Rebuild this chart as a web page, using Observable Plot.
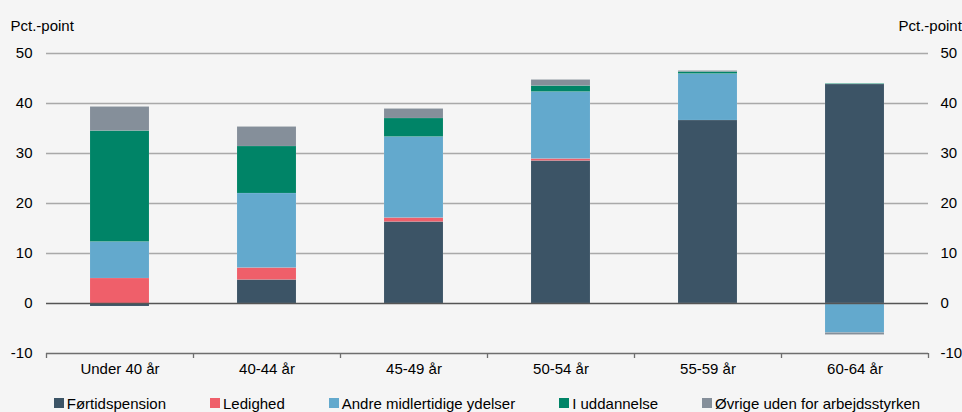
<!DOCTYPE html>
<html>
<head>
<meta charset="utf-8">
<script src="https://cdn.jsdelivr.net/npm/d3@7"></script>
<script src="https://cdn.jsdelivr.net/npm/@observablehq/plot@0.6"></script>
<style>
  html, body { margin: 0; padding: 0; background: #f5f5f5; }
  body { width: 962px; height: 412px; overflow: hidden; font-family: "Liberation Sans", Arial, sans-serif; }
  #legend { display: flex; justify-content: center; gap: 44px; font-size: 15px; color: #000; height: 22px; align-items: center; margin-top: 2px; padding-left: 12px; }
  #legend .item { display: flex; align-items: center; gap: 3px; white-space: nowrap; }
  #legend .sw { width: 10px; height: 10px; display: inline-block; }
</style>
</head>
<body>
<div id="chart"></div>
<div id="legend"></div>
<script>
const categories = ["Under 40 år", "40-44 år", "45-49 år", "50-54 år", "55-59 år", "60-64 år"];
const seriesNames = ["Førtidspension", "Ledighed", "Andre midlertidige ydelser", "I uddannelse", "Øvrige uden for arbejdsstyrken"];
const fortidspension = [-0.6, 4.7, 16.3, 28.5, 36.6, 43.8];
const ledighed = [5.0, 2.4, 0.8, 0.4, -0.2, -0.2];
const andreYdelser = [7.3, 14.9, 16.2, 13.4, 9.3, -5.7];
const iUddannelse = [22.2, 9.4, 3.7, 1.2, 0.4, 0.1];
const ovrige = [4.8, 3.9, 1.9, 1.2, 0.2, -0.4];
const yTicks = [-10, 0, 10, 20, 30, 40, 50];
const colors = ["#3c5466", "#ef5f6a", "#63a9cd", "#008467", "#858f9a"];

const seriesValues = [fortidspension, ledighed, andreYdelser, iUddannelse, ovrige];
const data = [];
seriesNames.forEach((s, si) => {
  categories.forEach((c, ci) => data.push({category: c, series: s, value: seriesValues[si][ci]}));
});

const width = 962, height = 390;
const marginLeft = 46, marginRight = 34;
const step = (width - marginLeft - marginRight) / categories.length;

const chart = Plot.plot({
  width, height,
  marginLeft, marginRight,
  marginTop: 53, marginBottom: 37,
  style: {background: "#f5f5f5", fontFamily: "Liberation Sans, Arial, sans-serif", fontSize: "15px", color: "#000"},
  x: {domain: categories, paddingInner: 0.6, paddingOuter: 0.3, label: null},
  y: {domain: [-10, 50], label: null},
  color: {domain: seriesNames, range: colors},
  marks: [
    Plot.ruleY(yTicks.filter(d => d > 0), {stroke: "#a9a9a9", strokeWidth: 1.3}),
    Plot.barY(data, {x: "category", y: "value", fill: "series", stroke: "#ffffff", strokeOpacity: 0.15, strokeWidth: 0.6, order: seriesNames}),
    Plot.ruleY([0], {stroke: "#555", strokeWidth: 1.3}),
    Plot.ruleY([-10], {stroke: "#6e6e6e", strokeWidth: 1.3}),
    Plot.ruleX(categories, {x: d => d, y1: -10, y2: -11, dx: -step / 2, stroke: "#6e6e6e", strokeWidth: 1.3}),
    Plot.ruleX(categories.slice(-1), {x: d => d, y1: -10, y2: -11, dx: step / 2, stroke: "#6e6e6e", strokeWidth: 1.3}),
    Plot.axisX({tickSize: 0, tickPadding: 10, fontSize: 15, label: null}),
    Plot.axisY({anchor: "left", ticks: yTicks, tickSize: 0, tickPadding: 14, fontSize: 15, label: null, tickFormat: d => String(d)}),
    Plot.axisY({anchor: "right", ticks: yTicks, tickSize: 0, tickPadding: 12, fontSize: 15, label: null, tickFormat: d => String(d)}),
    Plot.text(["Pct.-point"], {frameAnchor: "top-left", text: d => d, dx: -36, dy: -33, textAnchor: "start", fontSize: 15}),
    Plot.text(["Pct.-point"], {frameAnchor: "top-right", text: d => d, dx: -30, dy: -33, textAnchor: "start", fontSize: 15})
  ]
});
document.getElementById("chart").appendChild(chart);

const legend = document.getElementById("legend");
seriesNames.forEach((s, i) => {
  const item = document.createElement("span");
  item.className = "item";
  const sw = document.createElement("span");
  sw.className = "sw";
  sw.style.background = colors[i];
  item.appendChild(sw);
  item.appendChild(document.createTextNode(s));
  legend.appendChild(item);
});
</script>
</body>
</html>
